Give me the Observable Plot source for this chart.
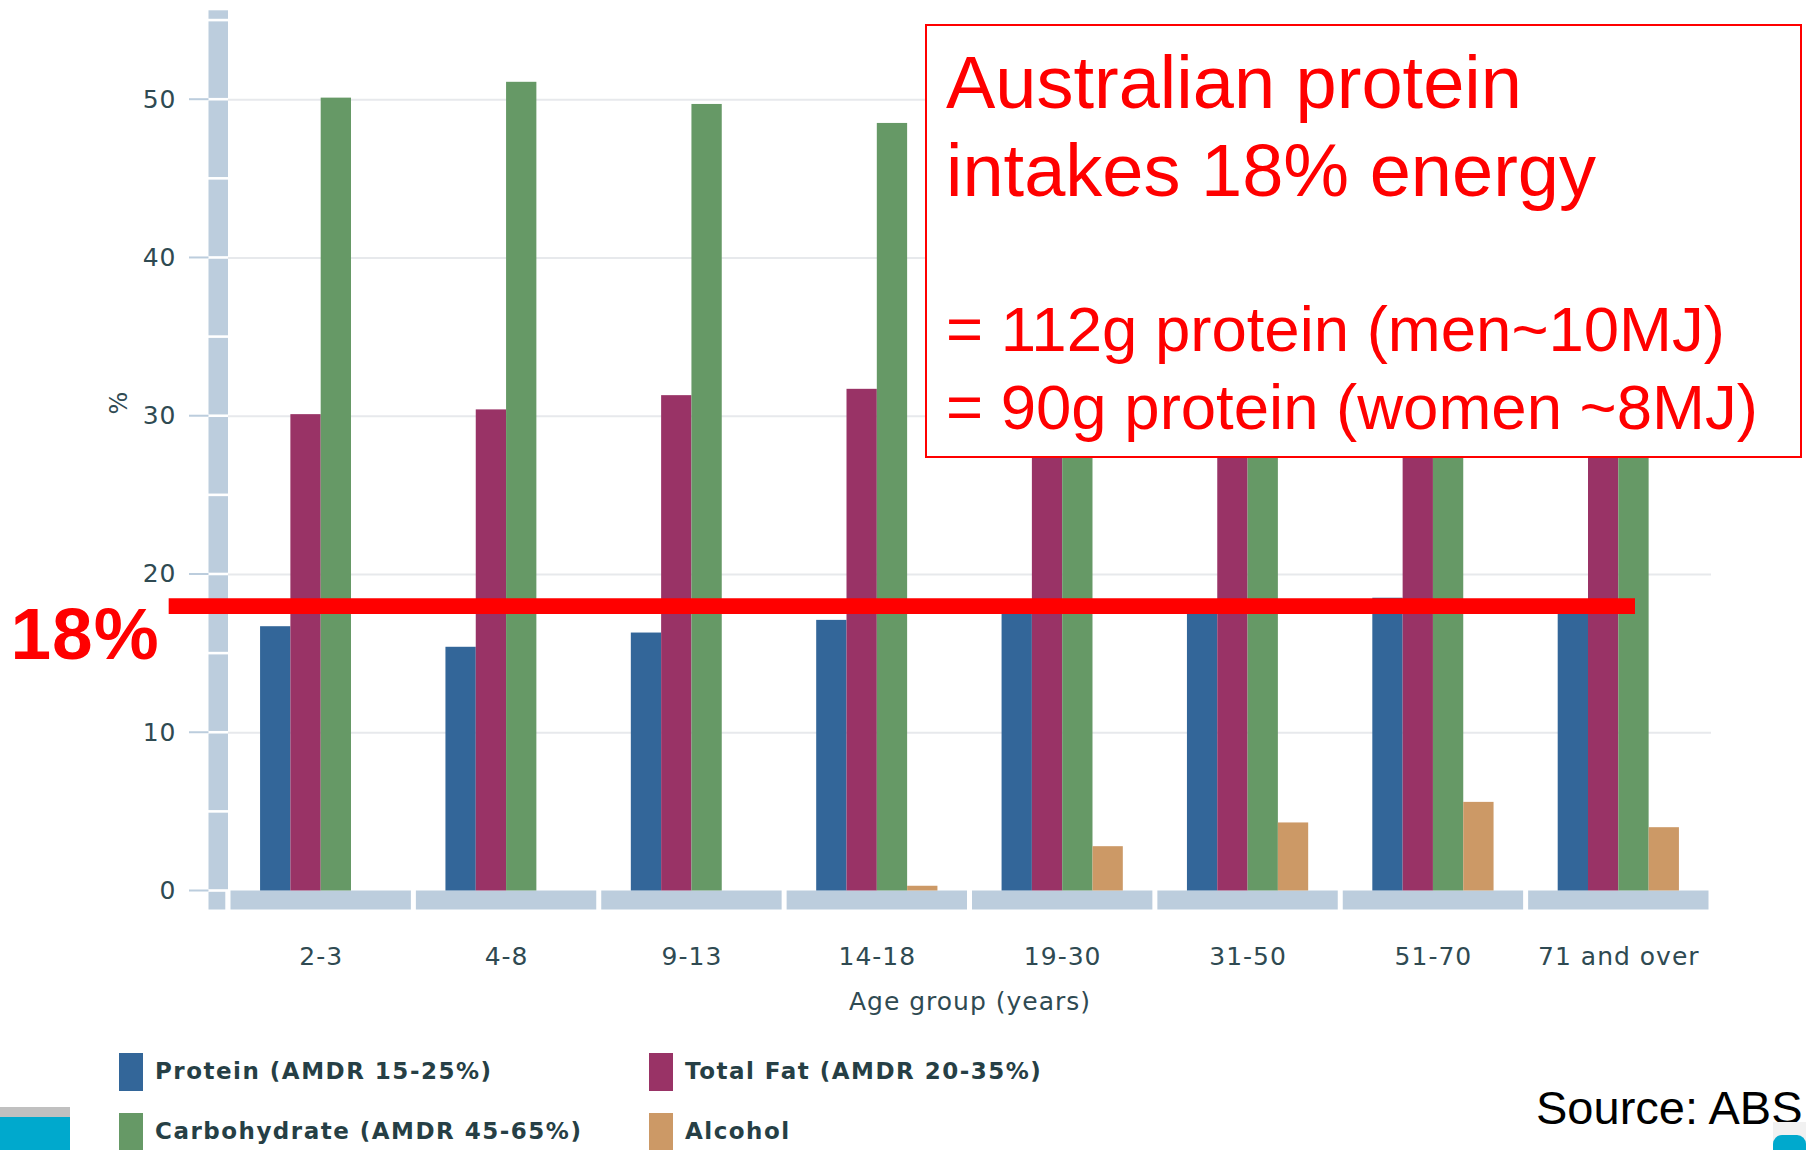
<!DOCTYPE html>
<html>
<head>
<meta charset="utf-8">
<script src="https://cdn.jsdelivr.net/npm/d3@7"></script>
<script src="https://cdn.jsdelivr.net/npm/@observablehq/plot@0.6"></script>
<style>
  html, body { margin: 0; padding: 0; background: #ffffff; }
  #page { position: relative; width: 1806px; height: 1150px; overflow: hidden; background: #ffffff; }
  #chart { position: absolute; left: 0; top: 0; }
  .legend-swatch { position: absolute; width: 24px; height: 38px; }
  .legend-text {
    position: absolute; font-family: "DejaVu Sans", sans-serif; font-weight: bold;
    font-size: 23px; line-height: 23px; letter-spacing: 1.5px; color: #263f45; white-space: nowrap;
  }
  #note {
    position: absolute; left: 925px; top: 24px; width: 873px; height: 430px;
    border: 2px solid #ff0000; background: #ffffff; color: #ff0000;
    font-family: "Liberation Sans", Arial, sans-serif;
  }
  #note div { position: absolute; left: 19px; white-space: nowrap; }
  #note .big { font-size: 74px; line-height: 74px; }
  #note .small { font-size: 63.5px; line-height: 63.5px; }
  #source {
    position: absolute; left: 1536px; top: 1084px; font-family: "Liberation Sans", Arial, sans-serif;
    font-size: 47px; line-height: 47px; color: #000000; white-space: nowrap;
  }
</style>
</head>
<body>
<div id="page">
  <div id="chart"></div>
  <div id="legend"></div>
  <div id="note">
    <div class="big" style="top: 20px;">Australian protein</div>
    <div class="big" style="top: 108px;">intakes 18% energy</div>
    <div class="small" style="top: 272px;">= 112g protein (men~10MJ)</div>
    <div class="small" style="top: 350px;">= 90g protein (women ~8MJ)</div>
  </div>
  <div id="source">Source: ABS</div>
  <div style="position:absolute; left:0; top:1107px; width:70px; height:10px; background:#c0c0c0;"></div>
  <div style="position:absolute; left:0; top:1117px; width:70px; height:33px; background:#00a9cd;"></div>
  <div style="position:absolute; left:1773px; top:1122px; width:33px; height:28px; background:#f1f1f1;"></div>
  <div style="position:absolute; left:1773px; top:1135px; width:33px; height:15px; background:#00a9cd; border-radius:9px 9px 0 0;"></div>
</div>
<script>
// Share of energy intake by macronutrient and age group (per cent)
const categories = ["2-3", "4-8", "9-13", "14-18", "19-30", "31-50", "51-70", "71 and over"];
const protein      = [16.7, 15.4, 16.3, 17.1, 18.1, 18.4, 18.5, 18.4];
const totalFat     = [30.1, 30.4, 31.3, 31.7, 31.0, 31.2, 31.6, 30.6];
const carbohydrate = [50.1, 51.1, 49.7, 48.5, 45.6, 44.3, 43.2, 45.2];
const alcohol      = [0.0, 0.0, 0.0, 0.3, 2.8, 4.3, 5.6, 4.0];

const seriesNames  = ["Protein (AMDR 15-25%)", "Total Fat (AMDR 20-35%)", "Carbohydrate (AMDR 45-65%)", "Alcohol"];
const seriesColors = ["#336699", "#993366", "#669966", "#cc9966"];
const yTicks = [0, 10, 20, 30, 40, 50];
const averageProtein = 18; // average protein share of energy, drawn as the red line

// Long table: one row per bar
const seriesValues = [protein, totalFat, carbohydrate, alcohol];
const barWidth = 0.1635; // one bar, in category units
const rows = categories.flatMap((c, i) =>
  seriesValues.map((vals, j) => {
    const x1 = i - (seriesValues.length / 2) * barWidth + j * barWidth;
    return {category: c, series: seriesNames[j], value: vals[i], x1, x2: x1 + barWidth};
  })
);

const xDomain = [-0.5, categories.length - 0.5];
const yMax = 55.7;
const axisBlue = "#bccddd";

// Segmented axis strip, broken every 5 per cent
const stripSegments = d3.range(0, 55, 5).map(lo => ({lo, hi: lo + 5})).concat([{lo: 55, hi: yMax}]);

const chart = Plot.plot({
  width: 1806,
  height: 1040,
  marginLeft: 228,
  marginRight: 95,
  marginTop: 9,
  marginBottom: 149.5,
  style: {
    fontFamily: "'DejaVu Sans', sans-serif",
    fontSize: "25px",
    color: "#2f4a52",
    background: "transparent",
    letterSpacing: "1px"
  },
  x: {
    domain: xDomain,
    ticks: d3.range(categories.length),
    tickFormat: i => categories[i],
    tickSize: 0,
    tickPadding: 56,
    label: null
  },
  y: {
    domain: [0, yMax],
    ticks: yTicks,
    tickSize: 0,
    tickPadding: 52,
    label: null
  },
  color: {domain: seriesNames, range: seriesColors},
  marks: [
    // horizontal gridlines
    Plot.ruleY(yTicks.filter(t => t > 0), {stroke: "#e7e9ec", strokeWidth: 2}),
    // vertical axis strip
    Plot.rect(stripSegments, {
      x1: xDomain[0], x2: xDomain[0], y1: "lo", y2: "hi",
      insetLeft: -19.5, insetTop: 1.3, insetBottom: 1.3, fill: axisBlue
    }),
    // corner piece under the strip
    Plot.rect([0], {
      x1: xDomain[0], x2: xDomain[0], y1: 0, y2: 0,
      insetLeft: -19.5, insetRight: 2.7, insetTop: 1.3, insetBottom: -19, fill: axisBlue
    }),
    // tick marks left of the strip
    Plot.rect(yTicks, {
      x1: xDomain[0], x2: xDomain[0], y1: d => d, y2: d => d,
      insetLeft: -39, insetRight: 19.5, insetTop: -1, insetBottom: -1, fill: axisBlue
    }),
    // one base block per age group
    Plot.rect(d3.range(categories.length), {
      x1: i => i - 0.5, x2: i => i + 0.5, y1: 0, y2: 0,
      insetLeft: 2.5, insetRight: 2.5, insetBottom: -19, fill: axisBlue
    }),
    // grouped bars
    Plot.rect(rows, {x1: "x1", x2: "x2", y1: 0, y2: "value", fill: "series"}),
    // average protein line and its label
    Plot.ruleY([averageProtein], {x1: -0.82, x2: 7.09, stroke: "#ff0000", strokeWidth: 15.6}),
    Plot.text([averageProtein], {
      y: d => d, text: d => `${d}%`, frameAnchor: "left", textAnchor: "start",
      dx: -218, dy: 29, fill: "#ff0000", fontSize: 73, fontWeight: "bold",
      fontFamily: "'Liberation Sans', Arial, sans-serif"
    }),
    // axis titles
    Plot.text(["%"], {
      text: d => d, frameAnchor: "top-left", dx: -119, dy: 405, rotate: -90, fontSize: 24
    }),
    Plot.text(["Age group (years)"], {
      text: d => d, frameAnchor: "bottom", dy: 118.5, lineAnchor: "bottom", fontSize: 25
    })
  ]
});
document.getElementById("chart").append(chart);

// Legend below the chart, two columns
const legend = document.getElementById("legend");
const legendSlots = [
  {swatchLeft: 119, textLeft: 155, row: 0},
  {swatchLeft: 649, textLeft: 685, row: 0},
  {swatchLeft: 119, textLeft: 155, row: 1},
  {swatchLeft: 649, textLeft: 685, row: 1}
];
seriesNames.forEach((name, k) => {
  const slot = legendSlots[k];
  const top = 1053 + slot.row * 60;
  const sw = document.createElement("div");
  sw.className = "legend-swatch";
  sw.style.left = slot.swatchLeft + "px";
  sw.style.top = top + "px";
  sw.style.background = seriesColors[k];
  legend.append(sw);
  const tx = document.createElement("div");
  tx.className = "legend-text";
  tx.style.left = slot.textLeft + "px";
  tx.style.top = (top + 7) + "px";
  tx.textContent = name;
  legend.append(tx);
});
</script>
</body>
</html>
